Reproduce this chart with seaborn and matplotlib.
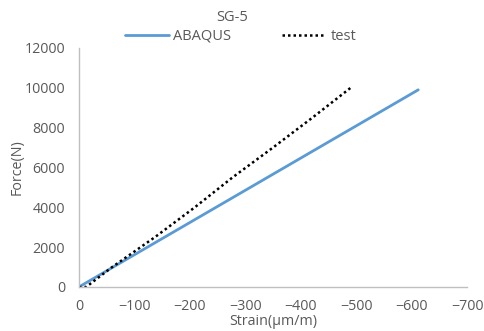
import numpy as np
import pandas as pd
import matplotlib
matplotlib.use('Agg')
import matplotlib.pyplot as plt
import seaborn as sns

# ABAQUS sonuclari (to'g'ri chiziq)
abaqus_strain = [0, -612]
abaqus_force = [0, 9900]

# test natijalari
test_strain = [0, -13, -60, -137, -209, -277, -350, -421, -490]
test_force = [0, 0, 1000, 2500, 4000, 5500, 7000, 8500, 10000]

x_ticks = [0, -100, -200, -300, -400, -500, -600, -700]
y_ticks = [0, 2000, 4000, 6000, 8000, 10000, 12000]

sns.set_style('white')
plt.rcParams['font.family'] = ['Open Sans', 'DejaVu Sans']

df_a = pd.DataFrame({'strain': abaqus_strain, 'force': abaqus_force})
df_t = pd.DataFrame({'strain': test_strain, 'force': test_force})

fig = plt.figure(figsize=(4.84, 3.31), dpi=100)
ax = fig.add_axes([0.163, 0.133, 0.802, 0.722])

sns.lineplot(data=df_a, x='strain', y='force', ax=ax, color='#5B9BD5',
             linewidth=2.0, label='ABAQUS', sort=False)
sns.lineplot(data=df_t, x='strain', y='force', ax=ax, color='black',
             linewidth=1.8, linestyle=(0, (1, 1.2)), label='test', sort=False)

ax.set_xlim(0, -700)
ax.set_ylim(0, 12000)
ax.set_xticks(x_ticks)
ax.set_yticks(y_ticks)
ax.tick_params(axis='both', length=0, labelsize=10.3, labelcolor='#595959')
ax.tick_params(axis='x', pad=9)
ax.tick_params(axis='y', pad=10)

for s in ['top', 'right']:
    ax.spines[s].set_visible(False)
for s in ['left', 'bottom']:
    ax.spines[s].set_color('#bfbfbf')
    ax.spines[s].set_linewidth(1.0)

ax.set_xlabel('Strain(\u03bcm/m)', fontsize=10.3, color='#595959', labelpad=0)
ax.set_ylabel('Force(N)', fontsize=10.3, color='#595959', labelpad=0)

handles, labels = ax.get_legend_handles_labels()
ax.get_legend().remove()
fig.legend(handles, labels, loc='center', bbox_to_anchor=(0.497, 0.89), ncol=2,
           frameon=False, fontsize=10.5, labelcolor='#595959', handlelength=3.0,
           columnspacing=3.5, handletextpad=0.3)

fig.text(0.48, 0.948, 'SG-5', ha='center', va='center', fontsize=10.5, color='#595959')

fig.savefig('out.png', dpi=100)
